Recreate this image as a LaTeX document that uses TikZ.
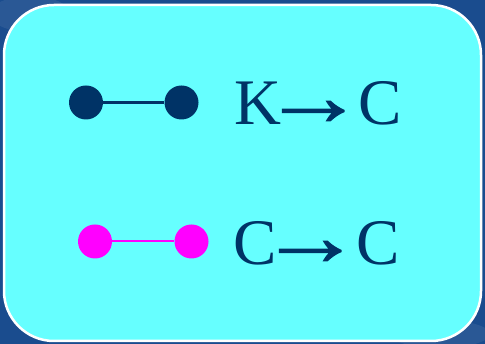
\documentclass[tikz,border=0pt]{standalone}
\usepackage{fontspec}
\setmainfont{Liberation Serif}
\newfontfamily\arrfont[FakeBold=1.2]{Liberation Serif}
\definecolor{bgblue}{HTML}{1A4C8E}
\definecolor{panel}{HTML}{66FFFF}
\definecolor{navy}{HTML}{003366}
\definecolor{mag}{HTML}{FF00FF}
\newcommand{\bigarr}{\scalebox{1.6}[1.3]{\arrfont\bfseries →}}
\begin{document}
\begin{tikzpicture}[x=1pt,y=1pt,
  dotnavy/.style={circle,fill=navy,inner sep=0pt,minimum size=34pt},
  dotmag/.style={circle,fill=mag,inner sep=0pt,minimum size=34pt},
  lbl/.style={text=navy,font=\fontsize{65}{65}\selectfont,inner sep=0pt,anchor=base west}]
\useasboundingbox (0,0) rectangle (485,344);
\fill[bgblue] (0,0) rectangle (485,344);
\fill[white!20!bgblue,opacity=0.35] (30,330) ellipse (40 and 18);
\fill[white!20!bgblue,opacity=0.35] (440,10) ellipse (50 and 14);
\filldraw[fill=panel,draw=white,line width=2.5pt,rounded corners=50pt] (4,3) rectangle (481,339);
% row 1
\node[dotnavy] (a1) at (86,241.5) {};
\node[dotnavy] (b1) at (181.5,241.5) {};
\draw[navy,line width=3pt] (a1) -- (b1);
\node[lbl] (t1) at (234,219) {\rlap{K}\hspace{27pt}\rlap{\bigarr}\hspace{97pt}C};
% row 2
\node[dotmag] (a2) at (95,102.5) {};
\node[dotmag] (b2) at (191.5,102.5) {};
\draw[mag,line width=2pt] (a2) -- (b2);
\node[lbl] (t2) at (233,79) {\rlap{C}\hspace{25pt}\rlap{\bigarr}\hspace{98pt}C};
\end{tikzpicture}
\end{document}
